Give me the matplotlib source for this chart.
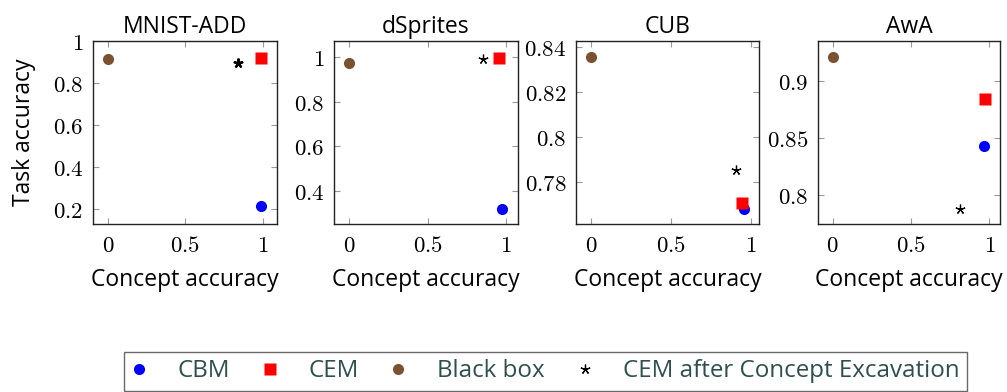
import matplotlib
matplotlib.use("Agg")
import matplotlib.pyplot as plt
from matplotlib.lines import Line2D

# ---------------- data ----------------
datasets = ["MNIST-ADD", "dSprites", "CUB", "AwA"]
cbm_concept = [0.987, 0.975, 0.956, 0.966]
cbm_task = [0.213, 0.319, 0.768, 0.843]
cem_concept = [0.987, 0.957, 0.946, 0.970]
cem_task = [0.919, 0.995, 0.7704, 0.8844]
bb_concept = [0.0, 0.0, 0.0, 0.0]
bb_task = [0.914, 0.971, 0.8356, 0.9217]
exc_concept = [0.837, 0.851, 0.904, 0.813]
exc_task = [0.894, 0.992, 0.7853, 0.7874]

xticks = [0, 0.5, 1]
xtick_labels = ["0", "0.5", "1"]
yticks = [[0.2, 0.4, 0.6, 0.8, 1.0], [0.4, 0.6, 0.8, 1.0],
          [0.78, 0.80, 0.82, 0.84], [0.80, 0.85, 0.90]]
ytick_labels = [["0.2", "0.4", "0.6", "0.8", "1"], ["0.4", "0.6", "0.8", "1"],
                ["0.78", "0.8", "0.82", "0.84"], ["0.8", "0.85", "0.9"]]
legend_labels = ["CBM", "CEM", "Black box", "CEM after Concept Excavation"]

# ---------------- style ----------------
plt.rcParams["mathtext.fontset"] = "cm"
SANS = ["Open Sans", "DejaVu Sans"]
C_CBM, C_CEM, C_BB, C_EXC = "#0000FF", "#FF0000", "#7A5230", "#000000"

W, H = 1007, 392
fig = plt.figure(figsize=(W / 100, H / 100), dpi=100)

boxes = [(93, 277), (334, 518), (576, 759), (818, 1000)]
top_px, bot_px = 41, 224
xlims = [(-0.095, 1.09), (-0.098, 1.076), (-0.094, 1.05), (-0.094, 1.068)]
ylims = [(0.129, 1.0), (0.25, 1.072), (0.7613, 0.8425), (0.7745, 0.9355)]

for i, name in enumerate(datasets):
    l, r = boxes[i]
    ax = fig.add_axes([l / W, 1 - bot_px / H, (r - l) / W, (bot_px - top_px) / H])
    ax.plot([cbm_concept[i]], [cbm_task[i]], "o", color=C_CBM, ms=8, mec="none")
    ax.plot([cem_concept[i]], [cem_task[i]], "s", color=C_CEM, ms=8, mec="none")
    ax.plot([bb_concept[i]], [bb_task[i]], "o", color=C_BB, ms=8, mec="none")
    ax.plot([exc_concept[i]], [exc_task[i]], marker=(5, 2, 0), color=C_EXC,
            ms=7, mew=1.6 if i == 0 else 0.9, ls="none")
    ax.set_xlim(*xlims[i])
    ax.set_ylim(*ylims[i])
    ax.set_xticks(xticks)
    ax.set_xticklabels([f"${t}$" for t in xtick_labels], fontsize=16.5)
    ax.set_yticks(yticks[i])
    ax.set_yticklabels([f"${t}$" for t in ytick_labels[i]], fontsize=16.5)
    ax.tick_params(direction="in", length=4, width=0.8, color="#999999",
                   top=True, right=True, pad=7)
    for s in ax.spines.values():
        s.set_linewidth(1.0)
        s.set_color("#222222")
    ax.set_title(name, fontsize=16.5, family=SANS, pad=6)
    ax.set_xlabel("Concept accuracy", fontsize=16.5, family=SANS, labelpad=8)
    if i == 0:
        ax.set_ylabel("Task accuracy", fontsize=16.5, family=SANS, labelpad=12)

handles = [
    Line2D([], [], ls="none", marker="o", color=C_CBM, ms=8, mec="none"),
    Line2D([], [], ls="none", marker="s", color=C_CEM, ms=8, mec="none"),
    Line2D([], [], ls="none", marker="o", color=C_BB, ms=8, mec="none"),
    Line2D([], [], ls="none", marker=(5, 2, 0), color=C_EXC, ms=7, mew=0.9),
]
leg = fig.legend(handles, legend_labels, loc="upper left",
                 bbox_to_anchor=(124 / W, 1 - 352 / H), ncol=4,
                 prop={"family": SANS, "size": 17.4}, frameon=True, fancybox=False,
                 edgecolor="#444444", borderpad=0.3, handlelength=0.6,
                 handletextpad=1.3, columnspacing=1.35, borderaxespad=0)
leg.get_frame().set_linewidth(1.0)
for t in leg.get_texts():
    t.set_color("#2F4F4F")

fig.savefig("out.png", dpi=100)
